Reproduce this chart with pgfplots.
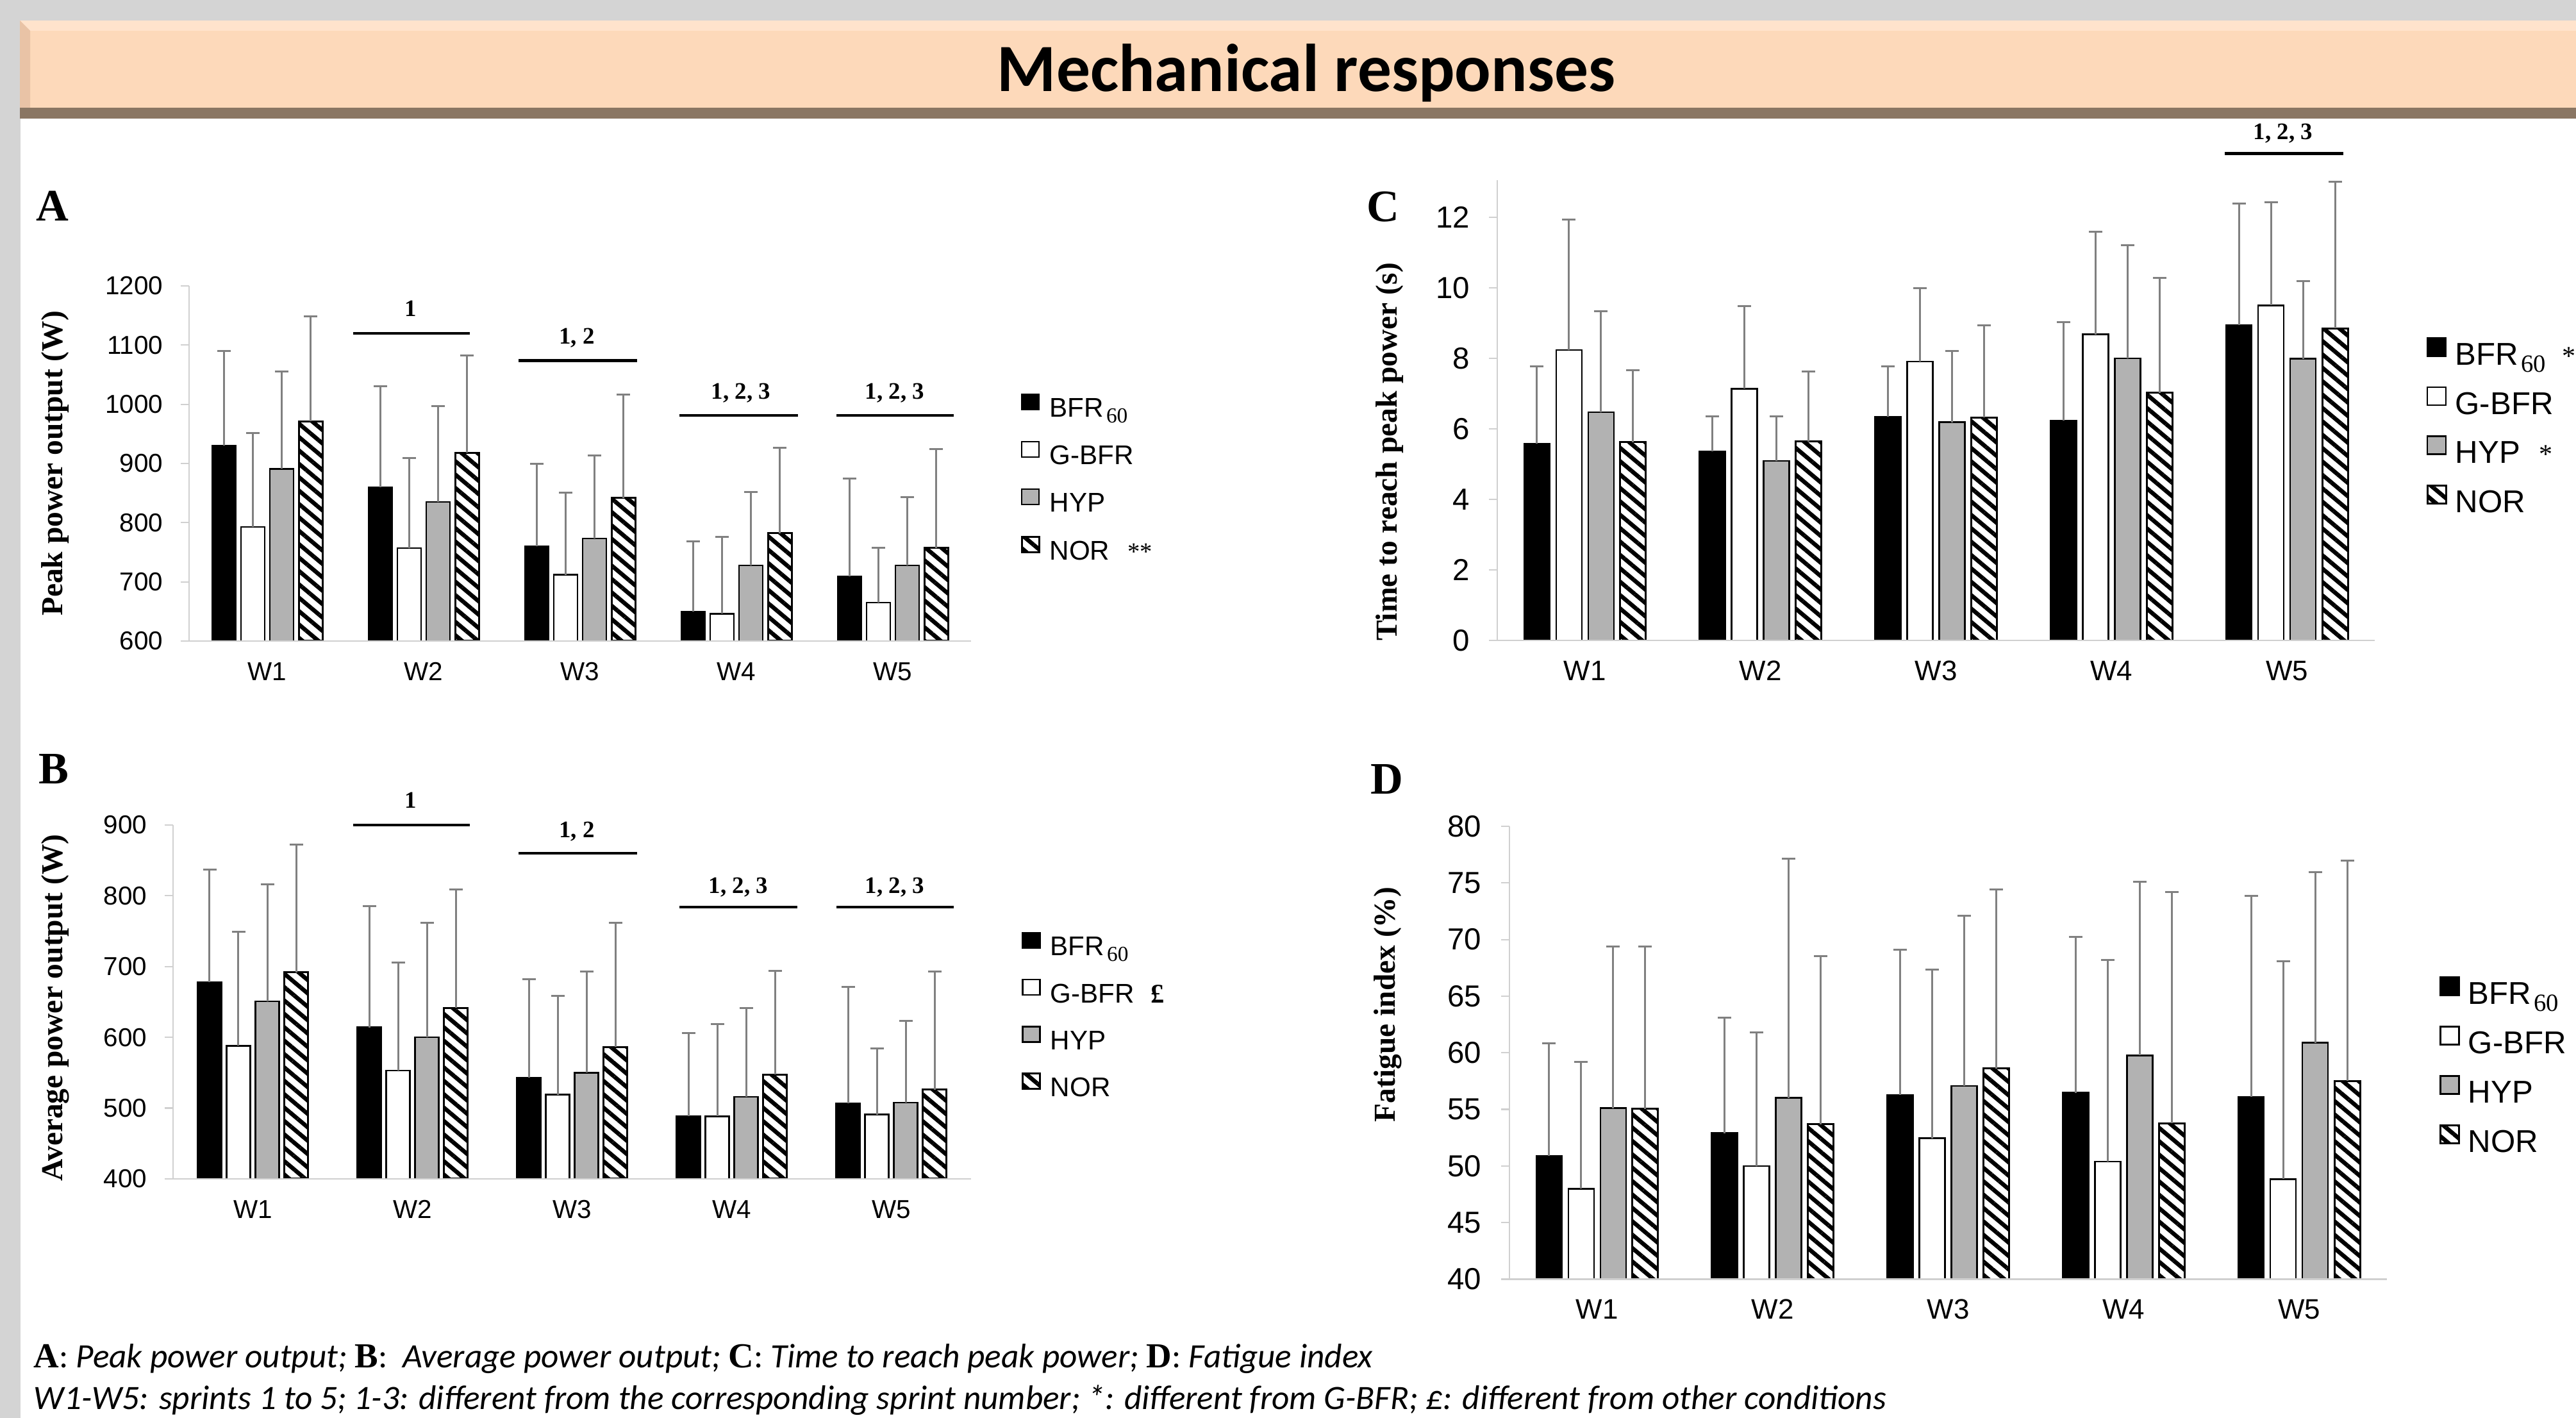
\documentclass[border=0pt]{standalone}
\usepackage{fontspec}
\setmainfont{Liberation Sans}
\newfontfamily\serif{Liberation Serif}
\newfontfamily\cali{Carlito}
\usepackage{pgfplots}
\pgfplotsset{compat=1.18}
\usetikzlibrary{patterns.meta}
\definecolor{axgray}{RGB}{208,208,208}
\definecolor{errgray}{RGB}{128,128,128}
\definecolor{hypgray}{RGB}{178,178,178}
\definecolor{bggray}{RGB}{212,212,212}
\definecolor{peach}{RGB}{253,217,186}
\definecolor{peachlight}{RGB}{255,227,204}
\definecolor{peachdark}{RGB}{233,195,166}
\definecolor{brownband}{RGB}{138,118,99}
\newcommand\sub[1]{\kern0.4mm\raisebox{-0.9mm}{\serif\fontsize{9.5}{10}\selectfont #1}}
\newcommand\subL[1]{\kern0.4mm\raisebox{-1.1mm}{\serif\fontsize{11}{11}\selectfont #1}}
\newcommand\lett[1]{{\serif\bfseries\fontsize{15.6}{15.6}\selectfont #1}}
\tikzset{sig/.style={font=\serif\bfseries\fontsize{10.5}{11}\selectfont, inner sep=0pt, anchor=base},
  sigline/.style={line width=0.45mm}}
\pgfplotsset{
  panel/.style={
    scale only axis, ybar, axis on top, anchor=south west,
    xmin=-0.5, xmax=4.5, xtick={0,1,2,3,4}, xticklabels={W1,W2,W3,W4,W5},
    axis x line*=bottom, axis y line*=left,
    axis line style={draw=axgray, line width=0.22mm},
    tick align=outside, major tick length=1.3mm,
    xtick style={draw=none},
    ytick style={draw=axgray, line width=0.22mm},
    /pgf/number format/assume math mode=true,
    /pgf/number format/1000 sep={},
    xticklabel style={anchor=base, yshift=-4.9mm, inner sep=0pt},
    yticklabel style={anchor=east, inner sep=0pt, xshift=-2.7mm},
    legend cell align=left,
  },
  s1/.style={fill=black, draw=black, line width=0.25mm},
  s2/.style={fill=white, draw=black, line width=0.25mm},
  s3/.style={fill=hypgray, draw=black, line width=0.25mm},
  s4/.style={draw=black, line width=0.3mm, pattern={Lines[angle=-40,distance=1.6mm,line width=0.65mm]}, pattern color=black},
  eb/.style={/pgfplots/error bars/y dir=plus, /pgfplots/error bars/y explicit,
    /pgfplots/error bars/error bar style={draw=errgray, line width=0.3mm},
    /pgfplots/error bars/error mark options={rotate=90, draw=errgray, line width=0.3mm, mark size=1.05mm}},
}
\begin{document}
\begin{tikzpicture}
\useasboundingbox (0,0) rectangle (401.9mm,221.2mm);
\fill[white] (0,0) rectangle (401.9mm,221.2mm);
\fill[bggray] (0,0) rectangle (3.2mm,221.2mm);
\fill[bggray] (0,218.0mm) rectangle (401.9mm,221.2mm);
\fill[peach] (3.1mm,204.4mm) rectangle (401.9mm,218.0mm);
\fill[peachlight] (3.1mm,216.4mm) rectangle (401.9mm,218.0mm);
\fill[peachdark] (3.1mm,204.4mm) -- (3.1mm,218.0mm) -- (4.7mm,216.4mm) -- (4.7mm,204.4mm) -- cycle;
\fill[brownband] (3.1mm,202.7mm) rectangle (401.9mm,204.4mm);
\node[anchor=base, inner sep=0pt, font=\cali\bfseries\fontsize{30}{30}\selectfont] at (203.8mm,206.9mm) {Mechanical responses};

% ---------------- A ----------------
\begin{axis}[panel, at={(29.5mm,121.2mm)}, width=122mm, height=55.4mm,
  ymin=600, ymax=1200, ytick={600,700,...,1200},
  ybar=0.8mm, bar width=3.7mm,
  ticklabel style={font=\fontsize{11.5}{12}\selectfont},
  ylabel={Peak power output (W)},
  ylabel style={at={(axis description cs:-0.1713,0.5)}, anchor=center, font=\serif\bfseries\fontsize{13.5}{14}\selectfont},
  legend style={at={(1.0631,0.6985)}, anchor=north west, draw=none, fill=none, inner sep=0pt, row sep=2.47mm, column sep=1.5mm, font=\fontsize{12}{12}\selectfont, nodes={inner sep=0pt, text height=3.0mm, text depth=1.2mm}},
  legend image code/.code={\draw[#1] (0mm,0.3mm) rectangle (2.7mm,2.7mm);},
  after end axis/.code={
    \draw[sigline] (axis cs:0.549,1120) -- (axis cs:1.295,1120);
    \node[sig] at (axis cs:0.918,1148.6) {1};
    \draw[sigline] (axis cs:1.607,1074) -- (axis cs:2.365,1074);
    \node[sig] at (axis cs:1.980,1102) {1, 2};
    \draw[sigline] (axis cs:2.635,981) -- (axis cs:3.393,981);
    \node[sig] at (axis cs:3.029,1008.3) {1, 2, 3};
    \draw[sigline] (axis cs:3.639,981) -- (axis cs:4.389,981);
    \node[sig] at (axis cs:4.012,1008.3) {1, 2, 3};
  }]
\addplot[s1, eb] coordinates {(0,930) +- (0,159.5) (1,860) +- (0,171) (2,760) +- (0,139) (3,650) +- (0,118) (4,709) +- (0,165)};
\addplot[s2, eb] coordinates {(0,793) +- (0,158) (1,757) +- (0,152) (2,712) +- (0,139) (3,646) +- (0,130) (4,665) +- (0,92.5)};
\addplot[s3, eb] coordinates {(0,891) +- (0,164) (1,835) +- (0,162) (2,773) +- (0,141) (3,727.5) +- (0,124) (4,727.5) +- (0,115.5)};
\addplot[s4, eb] coordinates {(0,971) +- (0,178) (1,918) +- (0,165) (2,842) +- (0,174) (3,782) +- (0,145) (4,757.5) +- (0,166.5)};
\legend{BFR\sub{60}, G-BFR, HYP, NOR\hspace{2.8mm}{\serif\fontsize{11}{11}\selectfont **}}
\end{axis}

% ---------------- B ----------------
\begin{axis}[panel, at={(27.0mm,37.3mm)}, width=124.5mm, height=55.2mm,
  ymin=400, ymax=900, ytick={400,500,...,900},
  ybar=0.8mm, bar width=3.7mm,
  ticklabel style={font=\fontsize{11.5}{12}\selectfont},
  ylabel={Average power output (W)},
  ylabel style={at={(axis description cs:-0.1478,0.4837)}, anchor=center, font=\serif\bfseries\fontsize{13.5}{14}\selectfont},
  legend style={at={(1.0627,0.6993)}, anchor=north west, draw=none, fill=none, inner sep=0pt, row sep=2.4mm, column sep=1.5mm, font=\fontsize{12}{12}\selectfont, nodes={inner sep=0pt, text height=3.0mm, text depth=1.2mm}},
  legend image code/.code={\draw[#1] (0mm,0.3mm) rectangle (2.7mm,2.7mm);},
  after end axis/.code={
    \draw[sigline] (axis cs:0.628,900) -- (axis cs:1.359,900);
    \node[sig] at (axis cs:0.990,924) {1};
    \draw[sigline] (axis cs:1.665,860) -- (axis cs:2.408,860);
    \node[sig] at (axis cs:2.030,882.3) {1, 2};
    \draw[sigline] (axis cs:2.673,784) -- (axis cs:3.412,784);
    \node[sig] at (axis cs:3.042,803.5) {1, 2, 3};
    \draw[sigline] (axis cs:3.657,784) -- (axis cs:4.392,784);
    \node[sig] at (axis cs:4.022,803.5) {1, 2, 3};
  }]
\addplot[s1, eb] coordinates {(0,678) +- (0,159) (1,614) +- (0,171) (2,543) +- (0,139) (3,488.5) +- (0,117.5) (4,507) +- (0,164)};
\addplot[s2, eb] coordinates {(0,588) +- (0,161) (1,553) +- (0,153) (2,519) +- (0,140) (3,488.5) +- (0,130.5) (4,491) +- (0,93)};
\addplot[s3, eb] coordinates {(0,651) +- (0,165) (1,600) +- (0,162) (2,550) +- (0,143) (3,516) +- (0,125.5) (4,508) +- (0,115)};
\addplot[s4, eb] coordinates {(0,692) +- (0,180) (1,641.5) +- (0,167.5) (2,586.5) +- (0,175.5) (3,547.5) +- (0,146.5) (4,526) +- (0,167)};
\legend{BFR\sub{60}, G-BFR\hspace{2.6mm}{\serif\bfseries\fontsize{12}{12}\selectfont £}, HYP, NOR}
\end{axis}

% ---------------- C ----------------
\begin{axis}[panel, at={(233.6mm,121.26mm)}, width=136.9mm, height=71.84mm,
  ymin=0, ymax=13.05, ytick={0,2,...,12},
  ybar=1.0mm, bar width=4.0mm,
  yticklabel style={font=\fontsize{13.5}{14}\selectfont, xshift=-0.2mm},
  xticklabel style={font=\fontsize{12.5}{13}\selectfont},
  ylabel={Time to reach peak power (s)},
  ylabel style={at={(axis description cs:-0.1227,0.4098)}, anchor=center, font=\serif\bfseries\fontsize{13.5}{14}\selectfont},
  legend style={at={(1.0584,0.6597)}, anchor=north west, draw=none, fill=none, inner sep=0pt, row sep=1.91mm, column sep=1.3mm, font=\fontsize{14}{14}\selectfont, nodes={inner sep=0pt, text height=3.5mm, text depth=1.4mm}},
  legend image code/.code={\draw[#1] (0mm,0.37mm) rectangle (2.9mm,3.17mm);},
  after end axis/.code={
    \draw[sigline] (axis cs:3.645,13.80) -- (axis cs:4.321,13.80);
    \node[sig] at (axis cs:3.978,14.21) {1, 2, 3};
  }]
\addplot[s1, eb] coordinates {(0,5.58) +- (0,2.19) (1,5.37) +- (0,0.98) (2,6.35) +- (0,1.42) (3,6.24) +- (0,2.79) (4,8.94) +- (0,3.44)};
\addplot[s2, eb] coordinates {(0,8.24) +- (0,3.70) (1,7.14) +- (0,2.34) (2,7.91) +- (0,2.07) (3,8.68) +- (0,2.91) (4,9.50) +- (0,2.93)};
\addplot[s3, eb] coordinates {(0,6.47) +- (0,2.86) (1,5.09) +- (0,1.26) (2,6.19) +- (0,2.01) (3,8.00) +- (0,3.21) (4,7.99) +- (0,2.20)};
\addplot[s4, eb] coordinates {(0,5.62) +- (0,2.04) (1,5.64) +- (0,1.99) (2,6.32) +- (0,2.61) (3,7.02) +- (0,3.26) (4,8.85) +- (0,4.15)};
\legend{BFR\subL{60}\hspace{2.6mm}{\serif\fontsize{12}{12}\selectfont *}, G-BFR, HYP\hspace{3mm}{\serif\fontsize{12}{12}\selectfont *}, NOR}
\end{axis}

% ---------------- D ----------------
\begin{axis}[panel, at={(235.5mm,21.65mm)}, width=136.9mm, height=70.65mm,
  ymin=40, ymax=80, ytick={40,45,...,80},
  ybar=1.0mm, bar width=4.0mm,
  yticklabel style={font=\fontsize{13.5}{14}\selectfont, xshift=-0.3mm},
  xticklabel style={font=\fontsize{12.5}{13}\selectfont},
  ylabel={Fatigue index (\%)},
  ylabel style={at={(axis description cs:-0.1388,0.6065)}, anchor=center, font=\serif\bfseries\fontsize{13.5}{14}\selectfont},
  legend style={at={(1.0592,0.6692)}, anchor=north west, draw=none, fill=none, inner sep=0pt, row sep=1.95mm, column sep=1.3mm, font=\fontsize{14}{14}\selectfont, nodes={inner sep=0pt, text height=3.5mm, text depth=1.4mm}},
  legend image code/.code={\draw[#1] (0mm,0.37mm) rectangle (2.9mm,3.17mm);},
  ]
\addplot[s1, eb] coordinates {(0,50.89) +- (0,9.94) (1,52.90) +- (0,10.2) (2,56.28) +- (0,12.8) (3,56.47) +- (0,13.78) (4,56.08) +- (0,17.78)};
\addplot[s2, eb] coordinates {(0,47.99) +- (0,11.18) (1,49.98) +- (0,11.79) (2,52.45) +- (0,14.88) (3,50.40) +- (0,17.8) (4,48.84) +- (0,19.23)};
\addplot[s3, eb] coordinates {(0,55.11) +- (0,14.3) (1,56.02) +- (0,21.12) (2,57.06) +- (0,15.04) (3,59.76) +- (0,15.33) (4,60.89) +- (0,15.05)};
\addplot[s4, eb] coordinates {(0,55.04) +- (0,14.37) (1,53.68) +- (0,14.88) (2,58.62) +- (0,15.79) (3,53.78) +- (0,20.44) (4,57.51) +- (0,19.47)};
\legend{BFR\subL{60}, G-BFR, HYP, NOR}
\end{axis}

% panel letters
\node[font=\serif\bfseries\fontsize{20}{20}\selectfont, inner sep=0pt] at (8.2mm,189.1mm) {A};
\node[font=\serif\bfseries\fontsize{20}{20}\selectfont, inner sep=0pt] at (8.4mm,101.2mm) {B};
\node[font=\serif\bfseries\fontsize{20}{20}\selectfont, inner sep=0pt] at (215.8mm,188.9mm) {C};
\node[font=\serif\bfseries\fontsize{20}{20}\selectfont, inner sep=0pt] at (216.4mm,99.6mm) {D};

% footnote
\node[anchor=base west, inner sep=0pt, font=\cali\fontsize{15.15}{17}\selectfont] at (5.2mm,7.8mm) {\lett{A}: \textit{Peak power output;} \lett{B}: \ \textit{Average power output;} \lett{C}: \textit{Time to reach peak power;} \lett{D}: \textit{Fatigue index}};
\node[anchor=base west, inner sep=0pt, font=\cali\itshape\fontsize{15.15}{17}\selectfont] at (5.2mm,1.3mm) {W1-W5: sprints 1 to 5; 1-3: different from the corresponding sprint number; *: different from G-BFR; £: different from other conditions};
\end{tikzpicture}
\end{document}
